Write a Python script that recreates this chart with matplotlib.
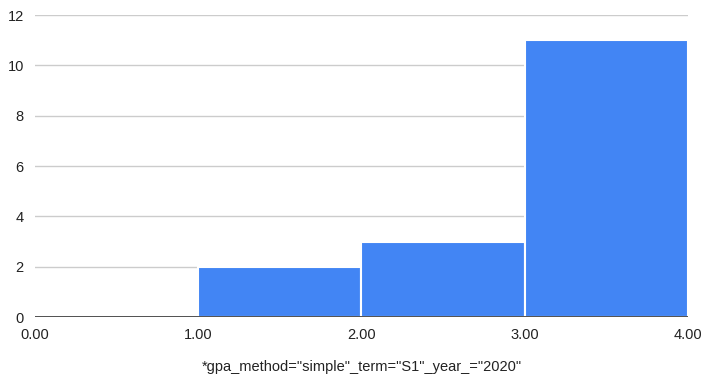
import matplotlib
matplotlib.use("Agg")
import matplotlib.pyplot as plt

# histogram bins and counts
bin_edges = [0.0, 1.0, 2.0, 3.0, 4.0]
counts = [0, 2, 3, 11]
x_ticks = [0.0, 1.0, 2.0, 3.0, 4.0]
y_ticks = [0, 2, 4, 6, 8, 10, 12]
x_label = '*gpa_method="simple"_term="S1"_year_="2020"'

plt.rcParams['font.family'] = ['Liberation Sans', 'DejaVu Sans']

fig = plt.figure(figsize=(7.05, 3.77), dpi=100)
ax = fig.add_axes([0.0496, 0.159, 0.926, 0.801])

lefts = bin_edges[:-1]
widths = [b - a for a, b in zip(bin_edges[:-1], bin_edges[1:])]
ax.bar(lefts, counts, width=widths, align='edge', color='#4285F4',
       edgecolor='white', linewidth=1.5, zorder=3)

ax.set_xlim(0, 4)
ax.set_ylim(0, 12)
ax.set_yticks(y_ticks)
ax.set_xticks(x_ticks)
ax.set_xticklabels(['%.2f' % t for t in x_ticks])
ax.grid(axis='y', color='#cccccc', linewidth=1, zorder=0)
ax.axhline(0, color='#333333', linewidth=1.2, zorder=4)

for side in ['top', 'right', 'left', 'bottom']:
    ax.spines[side].set_visible(False)
ax.tick_params(axis='both', length=0, labelsize=10.5, colors='#222222')
ax.tick_params(axis='y', pad=8)
ax.tick_params(axis='x', pad=8)

ax.set_xlabel(x_label, fontsize=10.5, color='#222222', labelpad=13)

fig.savefig('out.png', dpi=100)
